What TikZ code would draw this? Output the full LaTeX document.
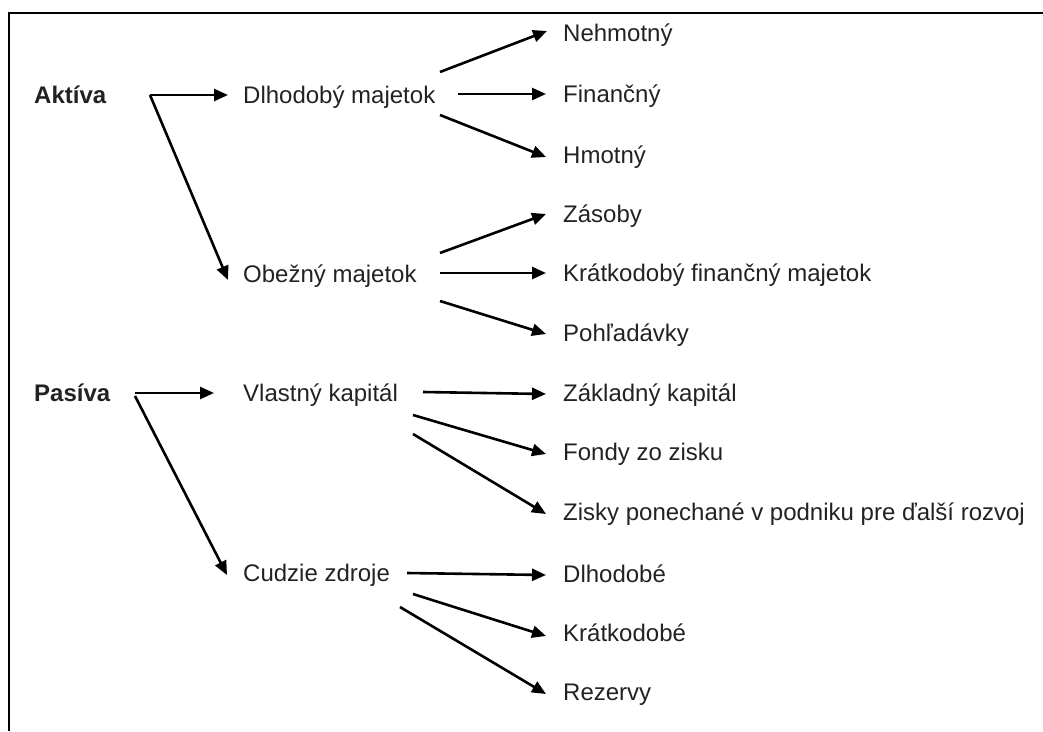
\documentclass[tikz,border=0pt]{standalone}
\usepackage{fontspec}
\setmainfont{Liberation Sans}
\usetikzlibrary{arrows.meta}
\definecolor{txt}{HTML}{222222}
\tikzset{
  lbl/.style={anchor=west, inner sep=0pt, text height=17pt, text depth=0pt, text=txt, font=\fontsize{24pt}{28pt}\selectfont},
  bl/.style={lbl, font=\fontsize{24pt}{28pt}\selectfont\bfseries},
  arr/.style={line width=2.6pt, -{Triangle[length=14pt,width=12pt]}},
  frm/.style={line width=2pt}
}
\begin{document}
\begin{tikzpicture}[x=1pt,y=-1pt]
\useasboundingbox (0,0) rectangle (1043,731);
\draw[frm] (9,731) -- (9,13) -- (1043,13);
% nodes
\node[bl]  (aktiva) at (34,95)  {Aktíva};
\node[lbl] (dlho)   at (243,95) {Dlhodobý majetok};
\node[lbl] (obez)   at (243,274) {Obežný majetok};
\node[bl]  (pasiva) at (34,393) {Pasíva};
\node[lbl] (vlast)  at (243,393) {Vlastný kapitál};
\node[lbl] (cudz)   at (243,573) {Cudzie zdroje};
\node[lbl] (neh)  at (563,33)  {Nehmotný};
\node[lbl] (fin)  at (563,94)  {Finančný};
\node[lbl] (hmot) at (563,155) {Hmotný};
\node[lbl] (zas)  at (563,214) {Zásoby};
\node[lbl] (kfm)  at (563,273) {Krátkodobý finančný majetok};
\node[lbl] (poh)  at (563,333) {Pohľadávky};
\node[lbl] (zk)   at (563,393) {Základný kapitál};
\node[lbl] (fz)   at (563,452) {Fondy zo zisku};
\node[lbl] (zp)   at (563,512) {Zisky ponechané v podniku pre ďalší rozvoj};
\node[lbl] (dl)   at (563,574) {Dlhodobé};
\node[lbl] (kr)   at (563,633) {Krátkodobé};
\node[lbl] (rez)  at (563,692) {Rezervy};
% start coordinates
\coordinate (sA) at (150,95);
\coordinate (sP) at (135,393);
\coordinate (sP2) at (135,396);
\coordinate (sD1) at (440,72);
\coordinate (sD2) at (458,94);
\coordinate (sD3) at (440,115);
\coordinate (sO1) at (440,253);
\coordinate (sO2) at (440,273);
\coordinate (sO3) at (440,301);
\coordinate (sV1) at (423,392);
\coordinate (sV2) at (413,415);
\coordinate (sV3) at (413,434);
\coordinate (sC1) at (407,573);
\coordinate (sC2) at (413,594);
\coordinate (sC3) at (400,607);
% connectors
\draw[arr] (sA) -- ([xshift=-15pt]dlho.west);
\draw[arr] (sA) -- ([xshift=-15pt,yshift=-6pt]obez.west);
\draw[arr] (sP) -- ([xshift=-29pt]vlast.west);
\draw[arr] (sP2) -- ([xshift=-16pt,yshift=-2pt]cudz.west);
\draw[arr] (sD1) -- ([xshift=-16pt,yshift=2pt]neh.west);
\draw[arr] (sD2) -- ([xshift=-17pt]fin.west);
\draw[arr] (sD3) -- ([xshift=-17pt,yshift=-2pt]hmot.west);
\draw[arr] (sO1) -- ([xshift=-17pt]zas.west);
\draw[arr] (sO2) -- ([xshift=-17pt]kfm.west);
\draw[arr] (sO3) -- ([xshift=-17pt,yshift=-1pt]poh.west);
\draw[arr] (sV1) -- ([xshift=-17pt,yshift=-1pt]zk.west);
\draw[arr] (sV2) -- ([xshift=-17pt,yshift=-2pt]fz.west);
\draw[arr] (sV3) -- ([xshift=-17pt,yshift=-2pt]zp.west);
\draw[arr] (sC1) -- ([xshift=-17pt,yshift=-1pt]dl.west);
\draw[arr] (sC2) -- ([xshift=-17pt,yshift=-3pt]kr.west);
\draw[arr] (sC3) -- ([xshift=-17pt,yshift=-2pt]rez.west);
\end{tikzpicture}
\end{document}
